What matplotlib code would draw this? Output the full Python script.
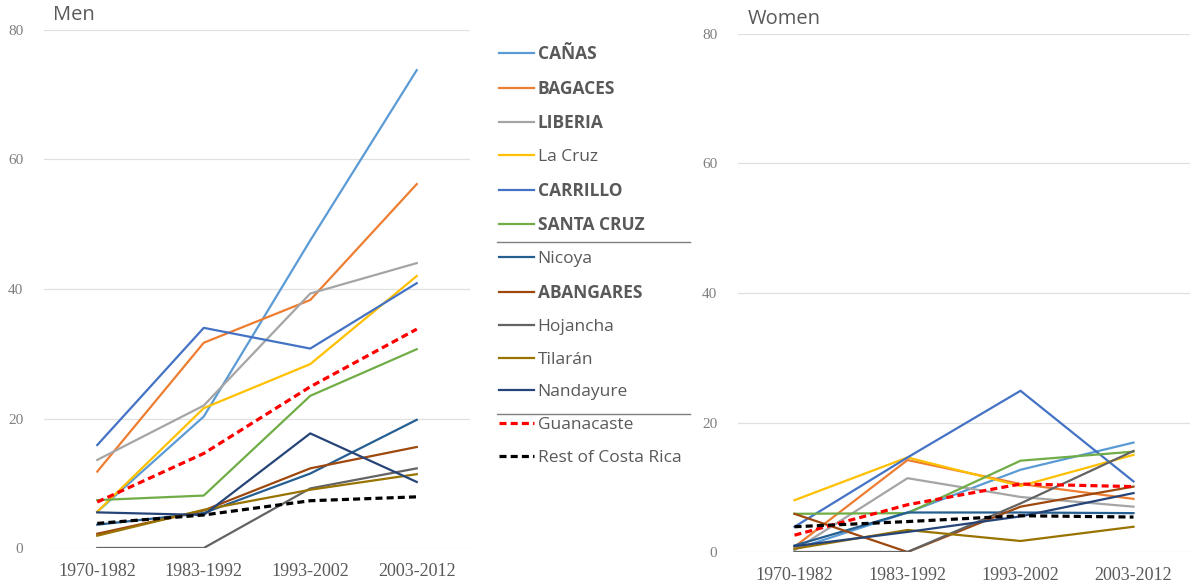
import matplotlib
matplotlib.use("Agg")
import matplotlib.pyplot as plt
from matplotlib.lines import Line2D

periods = ["1970-1982", "1983-1992", "1993-2002", "2003-2012"]
series_names = ["CAÑAS", "BAGACES", "LIBERIA", "La Cruz", "CARRILLO", "SANTA CRUZ",
                "Nicoya", "ABANGARES", "Hojancha", "Tilarán", "Nandayure",
                "Guanacaste", "Rest of Costa Rica"]
bold_names = {"CAÑAS", "BAGACES", "LIBERIA", "CARRILLO", "SANTA CRUZ", "ABANGARES"}

men_canas = [5.6, 20.3, 47.5, 73.8]
men_bagaces = [11.8, 31.7, 38.3, 56.2]
men_liberia = [13.6, 22.0, 39.3, 44.0]
men_lacruz = [5.6, 21.6, 28.4, 42.0]
men_carrillo = [15.9, 34.0, 30.8, 40.9]
men_santacruz = [7.4, 8.1, 23.5, 30.7]
men_nicoya = [3.6, 5.4, 11.5, 19.8]
men_abangares = [2.2, 5.8, 12.3, 15.6]
men_hojancha = [0.0, 0.0, 9.2, 12.3]
men_tilaran = [1.9, 5.9, 9.0, 11.4]
men_nandayure = [5.5, 5.1, 17.7, 10.2]
men_guanacaste = [7.1, 14.6, 24.9, 33.8]
men_rest = [3.8, 5.1, 7.3, 7.9]

women_canas = [0.4, 6.1, 12.7, 16.9]
women_bagaces = [0.8, 14.2, 10.5, 8.2]
women_liberia = [0.3, 11.4, 8.5, 7.0]
women_lacruz = [8.0, 14.6, 10.2, 15.0]
women_carrillo = [3.9, 14.6, 24.9, 10.9]
women_santacruz = [5.9, 6.0, 14.1, 15.5]
women_nicoya = [1.0, 6.1, 6.1, 6.0]
women_abangares = [5.9, 0.0, 7.0, 10.1]
women_hojancha = [0.0, 0.0, 7.5, 15.6]
women_tilaran = [0.5, 3.4, 1.7, 3.9]
women_nandayure = [0.9, 3.1, 5.5, 9.1]
women_guanacaste = [2.6, 7.3, 10.5, 10.1]
women_rest = [3.9, 4.7, 5.6, 5.4]

men = [men_canas, men_bagaces, men_liberia, men_lacruz, men_carrillo, men_santacruz,
       men_nicoya, men_abangares, men_hojancha, men_tilaran, men_nandayure,
       men_guanacaste, men_rest]
women = [women_canas, women_bagaces, women_liberia, women_lacruz, women_carrillo,
         women_santacruz, women_nicoya, women_abangares, women_hojancha, women_tilaran,
         women_nandayure, women_guanacaste, women_rest]

colors = ["#5B9BD5", "#ED7D31", "#A5A5A5", "#FFC000", "#4472C4", "#70AD47",
          "#255E91", "#9E480E", "#636363", "#997300", "#264478", "#FF0000", "#000000"]
dashed = {"Guanacaste", "Rest of Costa Rica"}

fig = plt.figure(figsize=(11.9, 5.88), dpi=100)
ax1 = fig.add_axes([44/1190, 1-548/588, 426/1190, 518/588])
ax2 = fig.add_axes([738/1190, 1-552/588, 452/1190, 518/588])

x = list(range(len(periods)))
handles = []
for ax, data, title in [(ax1, men, "Men"), (ax2, women, "Women")]:
    for name, vals, c in zip(series_names, data, colors):
        if name in dashed:
            ln, = ax.plot(x, vals, color=c, lw=2.3, linestyle=(0, (2.2, 1.3)), zorder=3)
        else:
            ln, = ax.plot(x, vals, color=c, lw=1.6, zorder=2)
        if ax is ax1:
            handles.append(ln)
    ax.set_xlim(-0.5, 3.5)
    ax.set_ylim(0, 80)
    ax.set_yticks([0, 20, 40, 60, 80])
    ax.set_xticks(x)
    ax.set_xticklabels(periods, family="Liberation Serif", fontsize=13, color="#595959")
    for t in ax.get_yticklabels():
        t.set_family("Liberation Serif")
    ax.tick_params(axis="y", labelsize=11, labelcolor="#7F7F7F", length=0, pad=15)
    ax.tick_params(axis="x", length=0, pad=11)
    ax.grid(axis="y", color="#E0E0E0", lw=0.9)
    ax.set_axisbelow(True)
    for s in ax.spines.values():
        s.set_visible(False)
    ax.text(0.022, 1.01, title, transform=ax.transAxes, fontsize=14.5, color="#595959",
            family="Open Sans", va="bottom", ha="left")

leg = fig.legend(handles, series_names, loc="upper left",
                 bbox_to_anchor=(499/1190, 1-45/588), frameon=False,
                 prop={"family": "Open Sans", "size": 12.5},
                 handlelength=2.0, handletextpad=0.22, labelspacing=0.96,
                 borderpad=0, borderaxespad=0)
for t in leg.get_texts():
    t.set_color("#595959")
    if t.get_text() in bold_names:
        t.set_fontweight("bold")

for yy in [242, 414]:
    fig.add_artist(Line2D([497/1190, 690/1190], [1-yy/588, 1-yy/588],
                          color="#7F7F7F", lw=1.0))

fig.savefig("out.png", dpi=100)
